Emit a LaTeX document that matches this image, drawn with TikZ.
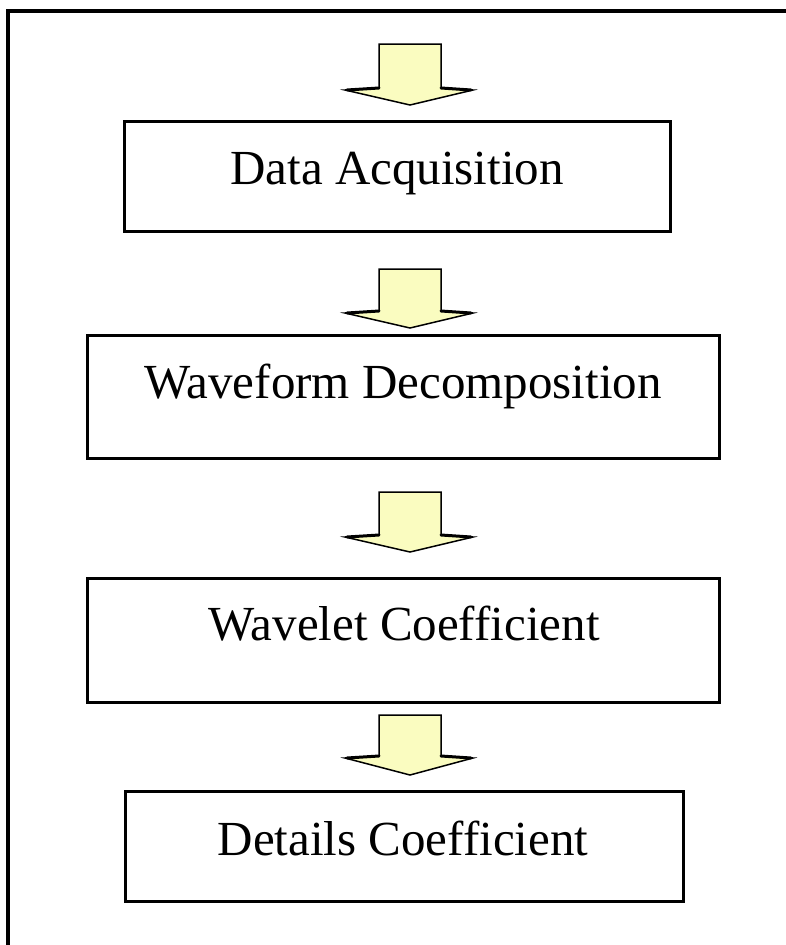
\documentclass[tikz,border=0pt]{standalone}
\usepackage{fontspec}
\setmainfont{Liberation Serif}
\definecolor{arrowfill}{RGB}{250,252,192}
\tikzset{
  boxstyle/.style={draw=black, line width=3pt, fill=white},
  labelstyle/.style={font=\fontsize{49}{55}\selectfont, anchor=base, inner sep=0pt},
  blockarrow/.style={draw=black, line width=1.5pt, fill=arrowfill, line join=miter},
  headedge/.style={draw=black, line width=3pt, line cap=round},
}
\newcommand{\flowarrow}[3]{% top y, head y, tip y
  \draw[blockarrow] (379,#1) -- (441,#1) -- (441,#2-2) -- (473,#2) -- (410,#3) -- (345,#2) -- (379,#2-2) -- cycle;
  \draw[headedge] (347,#2) -- (379,#2-2);
  \draw[headedge] (441,#2-2) -- (471,#2);
}
\begin{document}
\begin{tikzpicture}[x=1pt,y=-1pt]
\useasboundingbox (0,0) rectangle (786,945);
% outer frame (open to right and bottom)
\coordinate (fa) at (8,945);
\coordinate (fb) at (8,11);
\coordinate (fc) at (786,11);
\draw[line width=3.2pt] (fa) -- (fb) -- (fc);
% boxes
\draw[boxstyle] (124,121) rectangle (670,231);
\node (b1) at (397,176) {};
\draw[boxstyle] (87,335) rectangle (719,458);
\node (b2) at (403,396) {};
\draw[boxstyle] (87,578) rectangle (719,702);
\node (b3) at (403,640) {};
\draw[boxstyle] (125,791) rectangle (683,901);
\node (b4) at (404,846) {};
% labels
\node[labelstyle] (t1) at (397,184) {Data Acquisition};
\node[labelstyle] (t2) at (403,398) {Waveform Decomposition};
\node[labelstyle] (t3) at (404,640) {Wavelet Coefficient};
\node[labelstyle] (t4) at (403,855) {Details Coefficient};
% block arrows
\flowarrow{44}{90}{105}
\flowarrow{269}{313}{328}
\flowarrow{492}{537}{552}
\flowarrow{715}{758}{775}
\end{tikzpicture}
\end{document}
